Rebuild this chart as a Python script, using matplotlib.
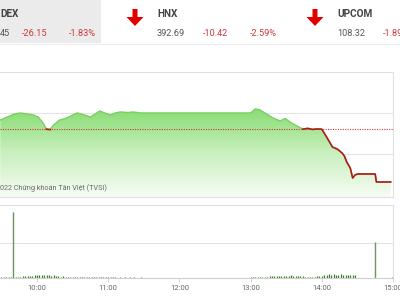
import matplotlib
matplotlib.use("Agg")
import matplotlib.pyplot as plt
import numpy as np
from matplotlib.colors import LinearSegmentedColormap
from matplotlib.patches import FancyArrow, Rectangle

plt.rcParams['font.family'] = ['Roboto', 'DejaVu Sans']

# header quotes
idx_names = ["DEX", "HNX", "UPCOM"]
idx_values = ["45", "392.69", "108.32"]
idx_changes = ["-26.15", "-10.42", "-1.89"]
idx_pcts = ["-1.83%", "-2.59%", "-1.89%"]

# intraday index (VN-Index), time -> points
ref_price = 1428.60
price_times = ["9:29", "9:35", "9:41", "9:46", "9:52", "9:57", "10:01", "10:05",
               "10:08", "10:11", "10:14", "10:19", "10:25", "10:30", "10:34",
               "10:40", "10:45", "10:49", "10:53", "10:57", "11:02", "11:06",
               "11:10", "11:17", "11:21", "11:27", "11:30", "13:00", "13:04",
               "13:08", "13:12", "13:19", "13:25", "13:29", "13:33", "13:39",
               "13:44", "13:48", "13:52", "13:56", "14:00", "14:04", "14:09",
               "14:13", "14:17", "14:19", "14:21", "14:24", "14:26", "14:28",
               "14:30", "14:45", "14:46", "14:58"]
price_values = [1433.0, 1434.5, 1436.0, 1436.5, 1436.0, 1435.5, 1434.5, 1431.6,
                1428.5, 1428.3, 1430.6, 1433.0, 1434.0, 1435.5, 1436.5,
                1435.5, 1434.5, 1436.0, 1437.5, 1436.5, 1435.5, 1436.5,
                1437.0, 1436.7, 1437.0, 1436.5, 1436.5, 1436.5, 1438.5,
                1438.0, 1436.5, 1434.0, 1432.5, 1433.8, 1432.1, 1430.1,
                1428.5, 1428.9, 1428.4, 1428.6, 1428.5, 1424.7, 1419.7,
                1418.7, 1416.8, 1415.3, 1412.3, 1409.3, 1404.4, 1405.9,
                1406.4, 1406.4, 1402.45, 1402.45]

# volume (million shares), 2-minute bins
vol_am_start = "9:30"
vol_am = [0.2, 0.3, 0.2, 0.4, 0.3, 0.3, 0.2, 0.4, 0.3, 0.5,
          0.6, 0.5, 0.7, 0.6, 0.8, 0.9, 0.8, 1.0, 0.9, 0.8,
          0.9, 0.7, 0.8, 0.6, 0.5, 0.4, 0.5, 0.3, 0.4, 0.3,
          0.3, 0.4, 0.3, 0.2, 0.3, 0.3, 0.2, 0.3, 0.3, 0.2,
          0.2, 0.3, 0.2, 0.2, 0.3, 0.2, 0.2, 0.3, 0.2, 0.1,
          0.2, 0.1, 0.2, 0.1, 0.2, 0.1, 0.2, 0.1, 0.1, 0.2]
vol_pm_start = "13:00"
vol_pm = [0.2, 0.3, 0.2, 0.2, 0.3, 0.3, 0.4, 0.3, 0.5, 0.5,
          0.6, 0.6, 0.7, 0.6, 0.7, 0.7, 0.6, 0.8, 0.7, 0.6,
          0.7, 0.6, 0.5, 0.4, 0.3, 0.3, 0.2, 0.3, 0.5, 0.6,
          0.7, 0.9, 1.0, 1.1, 1.0, 1.2, 1.0, 0.9, 1.1, 1.0,
          1.0, 0.9, 1.0, 0.8, 0.9]
spike_times = ["9:40", "14:45", "14:59"]
spike_values = [18.9, 10.3, 0.4]

hour_ticks = ["10:00", "11:00", "12:00", "13:00", "14:00", "15:00"]


def to_min(s):
    h, m = s.split(":")
    return int(h) * 60 + int(m)


def px(l, t, r, b):
    return [l / 400, 1 - b / 300, (r - l) / 400, (b - t) / 300]


x_lim = (568.8, 900)
t = np.array([to_min(s) for s in price_times], dtype=float)
p = np.array(price_values)

fig = plt.figure(figsize=(4, 3), dpi=100)
fig.patch.set_facecolor("white")

# ---- price panel
ax = fig.add_axes(px(0, 72, 393, 197))
y_lo, y_hi = 1395.05, 1456.7
grad = np.linspace(0, 1, 256).reshape(-1, 1)
cmap = LinearSegmentedColormap.from_list("g", ["#f6fcf4", "#c8efbd", "#86dc70"])
img = ax.imshow(grad, extent=[x_lim[0], x_lim[1], y_lo, 1439], origin="lower",
                aspect="auto", cmap=cmap, zorder=1)
poly = ax.fill_between(t, p, y_lo, color="none", lw=0)
img.set_clip_path(poly.get_paths()[0], transform=ax.transData)

ax.plot(t, p, color="#7acf62", lw=1.0, zorder=3)
red = np.ma.masked_where(p > ref_price + 0.35, p)
ax.plot(t, red, color="#b3191b", lw=1.2, zorder=4)
ax.axhline(ref_price, color="#c8383a", lw=0.8, ls=(0, (1, 1.2)), zorder=2)

ax.set_yticks([1416.4, 1436.5])
ax.grid(axis="y", color="#e3e3e3", lw=0.8)
ax.set_axisbelow(True)
ax.set_xlim(*x_lim)
ax.set_ylim(y_lo, y_hi)
ax.tick_params(left=False, bottom=False, labelleft=False, labelbottom=False)
for s in ["top", "right", "bottom"]:
    ax.spines[s].set_color("#e0e0e0")
    ax.spines[s].set_linewidth(0.8)
ax.spines["left"].set_visible(False)
ax.text(0.0, 0.07, "022 Chứng khoán Tân Việt (TVSI)", transform=ax.transAxes,
        fontsize=5.2, color="#6a6a6a", va="center", ha="left", zorder=5)

# ---- volume panel
av = fig.add_axes(px(0, 205, 393, 278))
am_t = to_min(vol_am_start) + 2 * np.arange(len(vol_am))
pm_t = to_min(vol_pm_start) + 2 * np.arange(len(vol_pm))
av.vlines(am_t, 0, vol_am, color="#3f7f2c", lw=0.9)
av.vlines(pm_t, 0, vol_pm, color="#3f7f2c", lw=0.9)
av.vlines([to_min(s) for s in spike_times], 0, spike_values, color="#6d9560", lw=1.0)
av.set_xlim(*x_lim)
av.set_ylim(0, 20.86)
av.set_yticks([10])
av.grid(axis="y", color="#e3e3e3", lw=0.8)
av.set_axisbelow(True)
av.set_xticks([to_min(s) for s in hour_ticks])
av.set_xticklabels(hour_ticks)
av.tick_params(axis="x", length=3, width=0.6, color="#cccccc", labelsize=5.5,
               labelcolor="#666666", pad=2)
av.tick_params(axis="y", left=False, labelleft=False)
for s in ["top", "right"]:
    av.spines[s].set_color("#e0e0e0")
    av.spines[s].set_linewidth(0.8)
av.spines["bottom"].set_color("#cfcfcf")
av.spines["bottom"].set_linewidth(0.8)
av.spines["left"].set_visible(False)

# ---- header overlay in pixel coords
hd = fig.add_axes([0, 0, 1, 1], zorder=10)
hd.set_xlim(0, 400)
hd.set_ylim(300, 0)
hd.axis("off")
hd.patch.set_alpha(0)
hd.add_patch(Rectangle((0, 0), 101, 43, color="#ebebeb", lw=0))
hd.plot([0, 400], [43.5, 43.5], color="#ececec", lw=0.8)
name_x = [0, 157, 337]
arrow_x = [None, 135, 315]
for i in range(3):
    x0 = name_x[i]
    hd.text(x0, 14, idx_names[i], fontsize=7.2, fontweight="bold", color="#444444",
            va="center", ha="left")
    hd.text(x0, 33, idx_values[i], fontsize=6.6, color="#555555", va="center")
    hd.text(x0 + (22 if i == 0 else 46), 33, idx_changes[i], fontsize=6.6,
            color="#cc3a3a", va="center")
    hd.text(x0 + (69 if i == 0 else 93), 33, idx_pcts[i], fontsize=6.6,
            color="#cc3a3a", va="center")
    if arrow_x[i] is not None:
        hd.add_patch(FancyArrow(arrow_x[i], 9, 0, 17, width=5, head_width=17,
                                head_length=9, length_includes_head=True,
                                color="#e00000", lw=0))

fig.savefig("out.png", dpi=100)
